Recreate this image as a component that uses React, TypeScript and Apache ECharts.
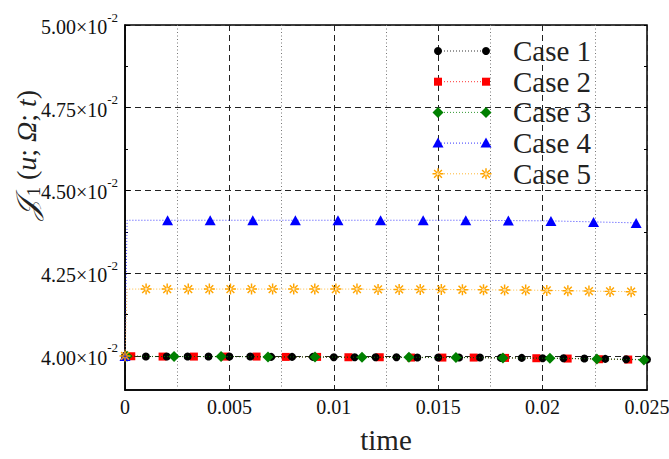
import React, { useEffect, useRef } from "react";
import * as echarts from "echarts";

// ---- data -------------------------------------------------------------
const caseNames = ["Case 1", "Case 2", "Case 3", "Case 4", "Case 5"];
const caseColors = ["#000000", "#ff0000", "#008000", "#0000ff", "#ffa500"];

const case1Time = [
  0, 0.001, 0.002, 0.003, 0.004, 0.005, 0.006, 0.007, 0.008, 0.009, 0.01, 0.011, 0.012,
  0.013, 0.014, 0.015, 0.016, 0.017, 0.018, 0.019, 0.02, 0.021, 0.022, 0.023, 0.024, 0.025,
];
const case1Value = [
  0.04, 0.03998, 0.03998, 0.03998, 0.03998, 0.03998, 0.03998, 0.03997, 0.03997, 0.03997,
  0.03996, 0.03996, 0.03996, 0.03996, 0.03995, 0.03995, 0.03995, 0.03995, 0.03994, 0.03994,
  0.03993, 0.03993, 0.03992, 0.03991, 0.0399, 0.03989,
];

const case2Time = [
  0, 0.0003, 0.0018, 0.0033, 0.0048, 0.0063, 0.0077, 0.0092, 0.0107, 0.0122, 0.0137, 0.0152,
  0.0167, 0.0182, 0.0197, 0.0212, 0.0227, 0.0241,
];
const case2Value = [
  0.04, 0.03999, 0.03998, 0.03998, 0.03998, 0.03998, 0.03997, 0.03997, 0.03996, 0.03996,
  0.03995, 0.03995, 0.03995, 0.03994, 0.03993, 0.03992, 0.0399, 0.03989,
];

const case3Time = [
  0, 0.0001, 0.00235, 0.0046, 0.00685, 0.0091, 0.01135, 0.0136, 0.01585, 0.0181, 0.02035,
  0.0226, 0.02485,
];
const case3Value = [
  0.04, 0.03999, 0.03998, 0.03998, 0.03997, 0.03997, 0.03996, 0.03996, 0.03995, 0.03994,
  0.03993, 0.03991, 0.03988,
];

const case4Time = [
  0, 0.0001, 0.00204, 0.00408, 0.00612, 0.00816, 0.0102, 0.01224, 0.01428, 0.01632, 0.01836,
  0.0204, 0.02244, 0.02448,
];
const case4Value = [
  0.04, 0.0441, 0.0441, 0.0441, 0.0441, 0.0441, 0.0441, 0.0441, 0.0441, 0.0441, 0.04409,
  0.04408, 0.04405, 0.04402,
];

const case5Time = [
  0, 0.0001, 0.00101, 0.00202, 0.00303, 0.00404, 0.00505, 0.00606, 0.00707, 0.00808, 0.00909,
  0.0101, 0.01111, 0.01212, 0.01313, 0.01414, 0.01515, 0.01616, 0.01717, 0.01818, 0.01919,
  0.0202, 0.02121, 0.02222, 0.02323, 0.02424,
];
const case5Value = [
  0.04, 0.04202, 0.04202, 0.04202, 0.04202, 0.04202, 0.04202, 0.04202, 0.04202, 0.04202,
  0.04202, 0.04202, 0.04202, 0.04201, 0.04201, 0.04201, 0.04201, 0.042, 0.042, 0.04199,
  0.04199, 0.04198, 0.04197, 0.04196, 0.04195, 0.04194,
];

// samples that only carry the line (no point marker)
const case1Bare: number[] = [];
const case2Bare = [0];
const case3Bare = [0];
const case4Bare = [0.0001];
const case5Bare = [0.0001];

const xTickLabels = [0, 0.005, 0.01, 0.015, 0.02, 0.025];
const yTickValues = [0.04, 0.0425, 0.045, 0.0475, 0.05];
const yMinorTickValues = [0.04125, 0.04375, 0.04625, 0.04875];

// ---- styling ----------------------------------------------------------
const SERIF = '"Liberation Serif", "DejaVu Serif", serif';
const ASTERISK =
  "M-0.8,-6 L0.8,-6 L0.8,6 L-0.8,6 Z M-6,-0.8 L6,-0.8 L6,0.8 L-6,0.8 Z " +
  "M3.7,4.8 L4.8,3.7 L-3.7,-4.8 L-4.8,-3.7 Z M4.8,-3.7 L3.7,-4.8 L-4.8,3.7 L-3.7,4.8 Z";

echarts.graphic.registerShape("asterisk", echarts.graphic.extendPath(ASTERISK, {}));

const caseSymbols: any[] = ["circle", "rect", "diamond", "triangle", "path://" + ASTERISK];
const caseSymbolSizes: any[] = [8, 8, 11, [11, 10], 11];
const caseZ = [3, 2, 4, 5, 6];

const caseTimes = [case1Time, case2Time, case3Time, case4Time, case5Time];
const caseValues = [case1Value, case2Value, case3Value, case4Value, case5Value];
const caseBare = [case1Bare, case2Bare, case3Bare, case4Bare, case5Bare];

function legendMarker(i: number, cx: number, cy: number) {
  const fill = caseColors[i];
  switch (i) {
    case 0:
      return { type: "circle", shape: { cx, cy, r: 4 }, style: { fill } };
    case 1:
      return { type: "rect", shape: { x: cx - 4, y: cy - 4, width: 8, height: 8 }, style: { fill } };
    case 2:
      return {
        type: "polygon",
        shape: { points: [[cx, cy - 5.5], [cx + 5.5, cy], [cx, cy + 5.5], [cx - 5.5, cy]] },
        style: { fill },
      };
    case 3:
      return {
        type: "polygon",
        shape: { points: [[cx, cy - 5.5], [cx + 5.5, cy + 4.5], [cx - 5.5, cy + 4.5]] },
        style: { fill },
      };
    default:
      return { type: "asterisk", x: cx, y: cy, scaleX: 0.92, scaleY: 0.92, style: { fill } };
  }
}

function buildLegend() {
  const items: any[] = [];
  const x1 = 438;
  const x2 = 486;
  caseNames.forEach((name, i) => {
    const y = 51 + i * 30.7;
    items.push({
      type: "line",
      shape: { x1, y1: y, x2, y2: y },
      style: { stroke: caseColors[i], lineWidth: 1, lineDash: [1, 2], opacity: 0.8 },
      z: 100,
    });
    items.push({ ...legendMarker(i, x1, y), z: 101 });
    items.push({ ...legendMarker(i, x2, y), z: 101 });
    items.push({
      type: "text",
      x: 513,
      y,
      z: 101,
      style: {
        text: name,
        fontFamily: SERIF,
        fontSize: 29,
        fill: "#222",
        align: "left",
        verticalAlign: "middle",
      },
    });
  });
  return items;
}

function textWidth(text: string, fontSize: number) {
  const t = new (echarts.graphic as any).Text({ style: { text, fontSize, fontFamily: SERIF } });
  return t.getBoundingRect().width as number;
}

// "m×10^-2" tick labels: mantissa, "×10" and the exponent as separate pieces,
// placed at the axis' own pixel positions
function buildYLabels(chart: echarts.ECharts) {
  const right = 118;
  const items: any[] = [];
  yTickValues.forEach((v) => {
    const py = (chart.convertToPixel({ yAxisIndex: 0 }, v) as number) + 2;
    const sup = "-2";
    const times = "×10";
    const mant = (v * 100).toFixed(2);
    const wSup = textWidth(sup, 13);
    const wTimes = textWidth(times, 20);
    const common = { fontFamily: SERIF, fill: "#111", verticalAlign: "middle" };
    items.push({
      type: "text",
      x: right - wSup,
      y: py - 10,
      z: 50,
      style: { ...common, text: sup, fontSize: 13, align: "left" },
    });
    items.push({
      type: "text",
      x: right - wSup,
      y: py,
      z: 50,
      style: { ...common, text: times, fontSize: 20, align: "right" },
    });
    items.push({
      type: "text",
      x: right - wSup - wTimes,
      y: py,
      z: 50,
      style: { ...common, text: mant, fontSize: 20, align: "right" },
    });
  });
  return items;
}

export default function App() {
  const ref = useRef<HTMLDivElement>(null);

  useEffect(() => {
    if (!ref.current) return;
    const chart = echarts.init(ref.current, undefined, { renderer: "svg" });

    const series = caseNames.map((name, i) => ({
      name,
      type: "line",
      z: caseZ[i],
      symbol: caseSymbols[i],
      symbolSize: caseSymbolSizes[i],
      showSymbol: true,
      data: caseTimes[i].map((t, j) =>
        caseBare[i].includes(t)
          ? { value: [t, caseValues[i][j]], symbol: "none" }
          : { value: [t, caseValues[i][j]] }
      ),
      itemStyle: { color: caseColors[i] },
      lineStyle: { color: caseColors[i], width: 1, type: [1, 2], opacity: 0.75 },
      emphasis: { disabled: true },
    }));

    chart.setOption({
      animation: false,
      backgroundColor: "#ffffff",
      grid: {
        left: 125,
        right: 22,
        top: 25,
        bottom: 69,
        containLabel: false,
        outerBoundsMode: "none",
        show: true,
        borderColor: "#000",
        borderWidth: 1.5,
        backgroundColor: "transparent",
      },
      xAxis: {
        type: "value",
        min: 0,
        max: 0.025,
        interval: 0.005,
        name: "time",
        nameLocation: "middle",
        nameGap: 35,
        nameMoveOverlap: false,
        nameTextStyle: { fontFamily: SERIF, fontSize: 29, color: "#222" },
        axisLine: { show: true, onZero: false, lineStyle: { color: "#000", width: 1.5 } },
        axisTick: { show: false },
        axisLabel: {
          customValues: xTickLabels,
          fontFamily: SERIF,
          fontSize: 20,
          color: "#111",
          margin: 7,
          formatter: (v: number) => String(v),
        },
        splitLine: { show: true, lineStyle: { color: "#222", width: 1, type: [6, 4] } },
        minorTick: { show: false, splitNumber: 2 },
        minorSplitLine: { show: true, lineStyle: { color: "#777", width: 1, type: [1, 2.5] } },
      },
      yAxis: [
        {
          type: "value",
          min: 0.03897,
          max: 0.05,
          axisLine: { show: true, onZero: false, lineStyle: { color: "#000", width: 1.5 } },
          axisTick: {
            show: true,
            inside: true,
            length: 5,
            customValues: yTickValues,
            lineStyle: { color: "#000" },
          },
          axisLabel: { show: false, customValues: yTickValues },
          splitLine: { show: true, lineStyle: { color: "#222", width: 1, type: [6, 4] } },
        },
        {
          type: "value",
          position: "left",
          min: 0.03897,
          max: 0.05,
          axisLine: { show: false },
          axisLabel: { show: false },
          splitLine: { show: false },
          axisTick: {
            show: true,
            inside: true,
            length: 3,
            customValues: yMinorTickValues,
            lineStyle: { color: "#000" },
          },
        },
        {
          type: "value",
          position: "right",
          min: 0.03897,
          max: 0.05,
          axisLine: { show: false },
          axisLabel: { show: false },
          splitLine: { show: false },
          axisTick: {
            show: true,
            inside: true,
            length: 3,
            customValues: [...yTickValues, ...yMinorTickValues],
            lineStyle: { color: "#000" },
          },
        },
      ],
      series,
    });

    chart.setOption({
      graphic: [
        {
          type: "text",
          x: 26,
          y: 155,
          rotation: Math.PI / 2,
          style: {
            text: "{j|𝒥}{b|1}{n| (}{i|u}{n|; }{i|Ω}{n|; }{i|t}{n|)}",
            align: "center",
            verticalAlign: "middle",
            fill: "#222",
            rich: {
              j: { fontFamily: SERIF, fontSize: 30, fontStyle: "italic", lineHeight: 34, fill: "#222" },
              b: {
                fontFamily: SERIF,
                fontSize: 18,
                lineHeight: 20,
                verticalAlign: "bottom",
                padding: [0, 0, 0, 3],
                fill: "#222",
              },
              n: { fontFamily: SERIF, fontSize: 28, lineHeight: 34, fill: "#222" },
              i: { fontFamily: SERIF, fontSize: 28, fontStyle: "italic", lineHeight: 34, fill: "#222" },
            },
          },
        },
        ...buildYLabels(chart),
        ...buildLegend(),
      ],
    });

    return () => chart.dispose();
  }, []);

  return (
    <div
      ref={ref}
      style={{ position: "fixed", left: 0, top: 0, width: 669, height: 459, background: "#fff" }}
    />
  );
}
